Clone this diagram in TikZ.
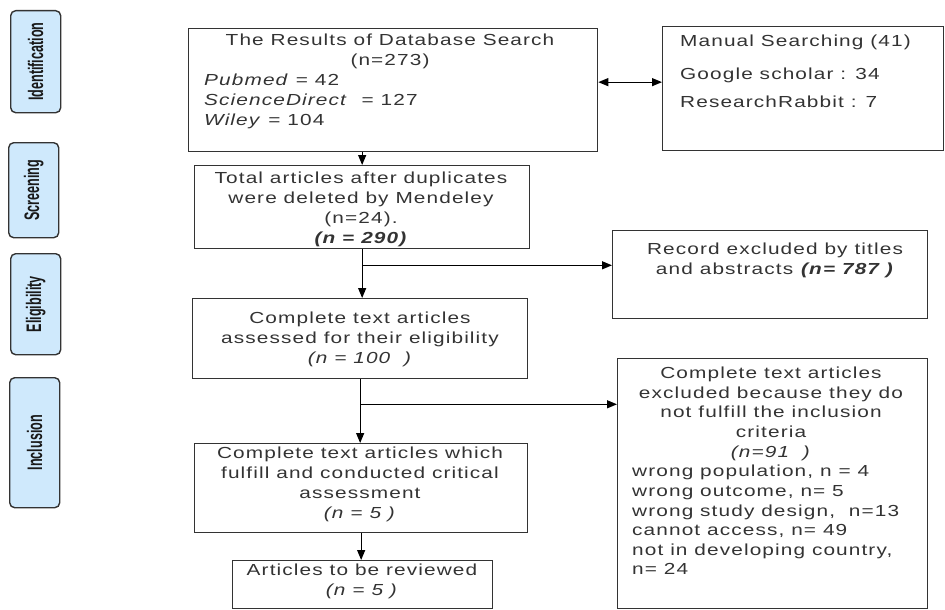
\documentclass[tikz,border=0pt]{standalone}
\usepackage{fontspec}
\setmainfont[FakeStretch=1.3,LetterSpace=7]{Liberation Sans}
\newfontfamily\phasefont[FakeStretch=0.6]{Liberation Sans}
\usetikzlibrary{arrows.meta}
\definecolor{phasefill}{HTML}{CFE9FC}
\definecolor{edge}{HTML}{333333}
\definecolor{ink}{HTML}{333333}
\begin{document}
\begin{tikzpicture}[x=1pt,y=-1pt,
  phase/.style={draw=edge, line width=1.4pt, fill=phasefill, rounded corners=5pt, minimum width=50pt, anchor=north west, inner sep=0pt},
  phasetext/.style={rotate=90, text=black!90, inner sep=0pt, font=\phasefont\bfseries\fontsize{21}{21}\selectfont},
  boxnode/.style={draw=edge, line width=1.3pt, anchor=north west, inner sep=0pt},
  txt/.style={text=ink, font=\fontsize{16}{20}\selectfont, inner sep=0pt, anchor=north, align=center},
  ltxt/.style={txt, anchor=north west, align=left},
  arr/.style={line width=1.2pt, -{Triangle[length=10pt,width=8pt]}},
  darr/.style={line width=1.2pt, {Triangle[length=10pt,width=8pt]}-{Triangle[length=10pt,width=8pt]}},
]
\useasboundingbox (0,0) rectangle (945,610);

% phase labels
\node[phase, minimum height=102pt] (pI) at (10,10) {};
\node[phasetext] (tI) at (pI.center) {Identification};
\node[phase, minimum height=95pt] (pS) at (8,142) {};
\node[phasetext] (tS) at (pS.center) {Screening};
\node[phase, minimum height=101pt] (pE) at (10,253) {};
\node[phasetext] (tE) at (pE.center) {Eligibility};
\node[phase, minimum height=130pt] (pN) at (9,377) {};
\node[phasetext] (tN) at (pN.center) {Inclusion};

% boxes
\node[boxnode, minimum width=409pt, minimum height=123pt] (b1) at (188,28) {};
\node[boxnode, minimum width=281pt, minimum height=124pt] (man) at (662,26) {};
\node[boxnode, minimum width=335pt, minimum height=83pt] (b2) at (194,165) {};
\node[boxnode, minimum width=335pt, minimum height=80pt] (b3) at (192,298) {};
\node[boxnode, minimum width=315pt, minimum height=88pt] (rec) at (612,230) {};
\node[boxnode, minimum width=333pt, minimum height=89pt] (b4) at (194,443) {};
\node[boxnode, minimum width=260pt, minimum height=48pt] (b5) at (232,560) {};
\node[boxnode, minimum width=310pt, minimum height=250pt] (exc) at (617,358) {};

% texts
\node[txt] (t1) at (390,34) {The Results of Database Search\\(n=273)};
\node[ltxt] (t1b) at (204,74) {\textit{Pubmed} = 42\\\textit{ScienceDirect}\ \ = 127\\\textit{Wiley} = 104};
\node[ltxt] (tm) at (680,35) {Manual Searching (41)\\[13pt]Google scholar : 34\\[8pt]ResearchRabbit : 7};
\node[txt] (t2) at (361,172) {Total articles after duplicates\\were deleted by Mendeley\\(n=24).\\\textbf{\textit{(n = 290)}}};
\node[txt] (t3) at (360,312) {Complete text articles\\assessed for their eligibility\\\textit{(n = 100\ \ )}};
\node[txt] (tr) at (775,243) {Record excluded by titles\\and abstracts \textbf{\textit{(n= 787 )}}};
\node[txt] (t4) at (360,447) {Complete text articles which\\fulfill and conducted critical\\assessment\\\textit{(n = 5 )}};
\node[txt] (t5) at (362,564) {Articles to be reviewed\\\textit{(n = 5 )}};
\node[txt, font=\fontsize{16}{19.6}\selectfont] (te1) at (771,367) {Complete text articles\\excluded because they do\\not fulfill the inclusion\\criteria\\\textit{(n=91\ \ )}};
\node[ltxt, font=\fontsize{16}{19.6}\selectfont] (te2) at (632,465) {wrong population, n = 4\\wrong outcome, n= 5\\wrong study design,\ \ n=13\\cannot access, n= 49\\not in developing country,\\n= 24};

% connectors
\coordinate (d1) at ([yshift=8pt]b1.east);
\draw[darr] (d1) -- (d1 -| man.west);
\draw[arr] (b2.north |- b1.south) -- (b2.north);
\draw[arr] (b2.south) -- (b2.south |- b3.north);
\coordinate (j1) at ([yshift=-16pt]b2.south);
\draw[arr] (j1) -- (j1 -| rec.west);
\draw[arr] (b3.south) -- (b3.south |- b4.north);
\coordinate (j2) at ([yshift=-25pt]b3.south);
\draw[arr] (j2) -- (j2 -| exc.west);
\draw[arr] (b4.south) -- (b4.south |- b5.north);
\end{tikzpicture}
\end{document}
